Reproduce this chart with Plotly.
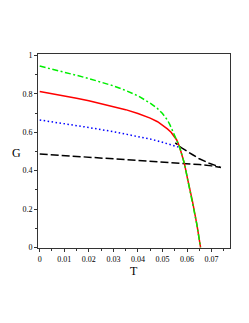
import plotly.graph_objects as go

# Red solid
t_red = [0, 0.005, 0.01, 0.015, 0.02, 0.025, 0.03, 0.035, 0.04, 0.045, 0.048, 0.05, 0.052, 0.0535, 0.0548,
         0.0558, 0.0569, 0.0589, 0.0603, 0.0621, 0.064, 0.0655]
g_red = [0.812, 0.801, 0.789, 0.777, 0.764, 0.75, 0.735, 0.718, 0.698, 0.674, 0.655, 0.638, 0.618, 0.6, 0.58,
         0.56, 0.526, 0.439, 0.352, 0.248, 0.12, 0.0]

# Green dash-dot
t_green = [0, 0.005, 0.01, 0.015, 0.02, 0.025, 0.03, 0.035, 0.04, 0.045, 0.048, 0.05, 0.052, 0.053, 0.054, 0.0548,
           0.0558, 0.0569, 0.0589, 0.0603, 0.0621, 0.064, 0.0655]
g_green = [0.945, 0.93, 0.913, 0.897, 0.88, 0.862, 0.842, 0.818, 0.79, 0.752, 0.723, 0.698, 0.664, 0.64, 0.612, 0.585,
           0.56, 0.526, 0.439, 0.352, 0.248, 0.12, 0.0]

# Blue dotted
t_blue = [0, 0.01, 0.02, 0.03, 0.04, 0.045, 0.05, 0.055, 0.057]
g_blue = [0.664, 0.645, 0.625, 0.603, 0.578, 0.565, 0.548, 0.53, 0.521]

# Black dashed (swallowtail: lower branch out, upper branch back)
t_black = [0, 0.01, 0.02, 0.03, 0.04, 0.05, 0.06, 0.065, 0.07, 0.0738,
           0.069, 0.065, 0.0623, 0.06, 0.058, 0.0562, 0.0552]
g_black = [0.487, 0.479, 0.47, 0.462, 0.454, 0.446, 0.437, 0.432, 0.425, 0.417,
           0.439, 0.462, 0.483, 0.5, 0.517, 0.535, 0.545]

x_ticks = [0, 0.01, 0.02, 0.03, 0.04, 0.05, 0.06, 0.07]
x_labels = ["0", "0.01", "0.02", "0.03", "0.04", "0.05", "0.06", "0.07"]
y_ticks = [0, 0.2, 0.4, 0.6, 0.8, 1]
y_labels = ["0", "0.2", "0.4", "0.6", "0.8", "1"]

fig = go.Figure()
fig.add_trace(go.Scatter(x=t_black, y=g_black, mode="lines",
                         line=dict(color="black", width=1.5, dash="8px,3px")))
fig.add_trace(go.Scatter(x=t_blue, y=g_blue, mode="lines",
                         line=dict(color="#0000ff", width=1.5, dash="1.5px,2.5px")))
fig.add_trace(go.Scatter(x=t_red, y=g_red, mode="lines",
                         line=dict(color="#ff0000", width=1.5)))
fig.add_trace(go.Scatter(x=t_green, y=g_green, mode="lines",
                         line=dict(color="#00ee00", width=1.5, dash="6px,2.5px,2px,2.5px")))

serif = "Liberation Serif"
axis_common = dict(showline=True, mirror=True, linecolor="#333333", linewidth=1,
                   showgrid=False, zeroline=False, ticks="outside", ticklen=3,
                   tickcolor="#333333", tickfont=dict(family=serif, size=8, color="black"))

fig.update_layout(
    width=241, height=315,
    margin=dict(l=30, r=19, t=46, b=75),
    paper_bgcolor="white", plot_bgcolor="white",
    showlegend=False,
    xaxis=dict(range=[-0.0007, 0.0775], tickvals=x_ticks, ticktext=x_labels,
               minor=dict(ticks="outside", ticklen=2, dtick=0.005, tick0=0, tickcolor="#333333"),
               **axis_common),
    yaxis=dict(range=[-0.003, 1.008], tickvals=y_ticks, ticktext=y_labels,
               minor=dict(ticks="outside", ticklen=2, dtick=0.1, tick0=0, tickcolor="#333333"),
               **axis_common),
    annotations=[
        dict(text="G", xref="paper", yref="paper", x=-0.11, y=0.49, showarrow=False,
             font=dict(family=serif, size=12, color="black"), xanchor="center", yanchor="middle"),
        dict(text="T", xref="paper", yref="paper", x=0.5, y=-0.118, showarrow=False,
             font=dict(family=serif, size=12, color="black"), xanchor="center", yanchor="middle"),
    ],
)

fig.write_html("out.html")
